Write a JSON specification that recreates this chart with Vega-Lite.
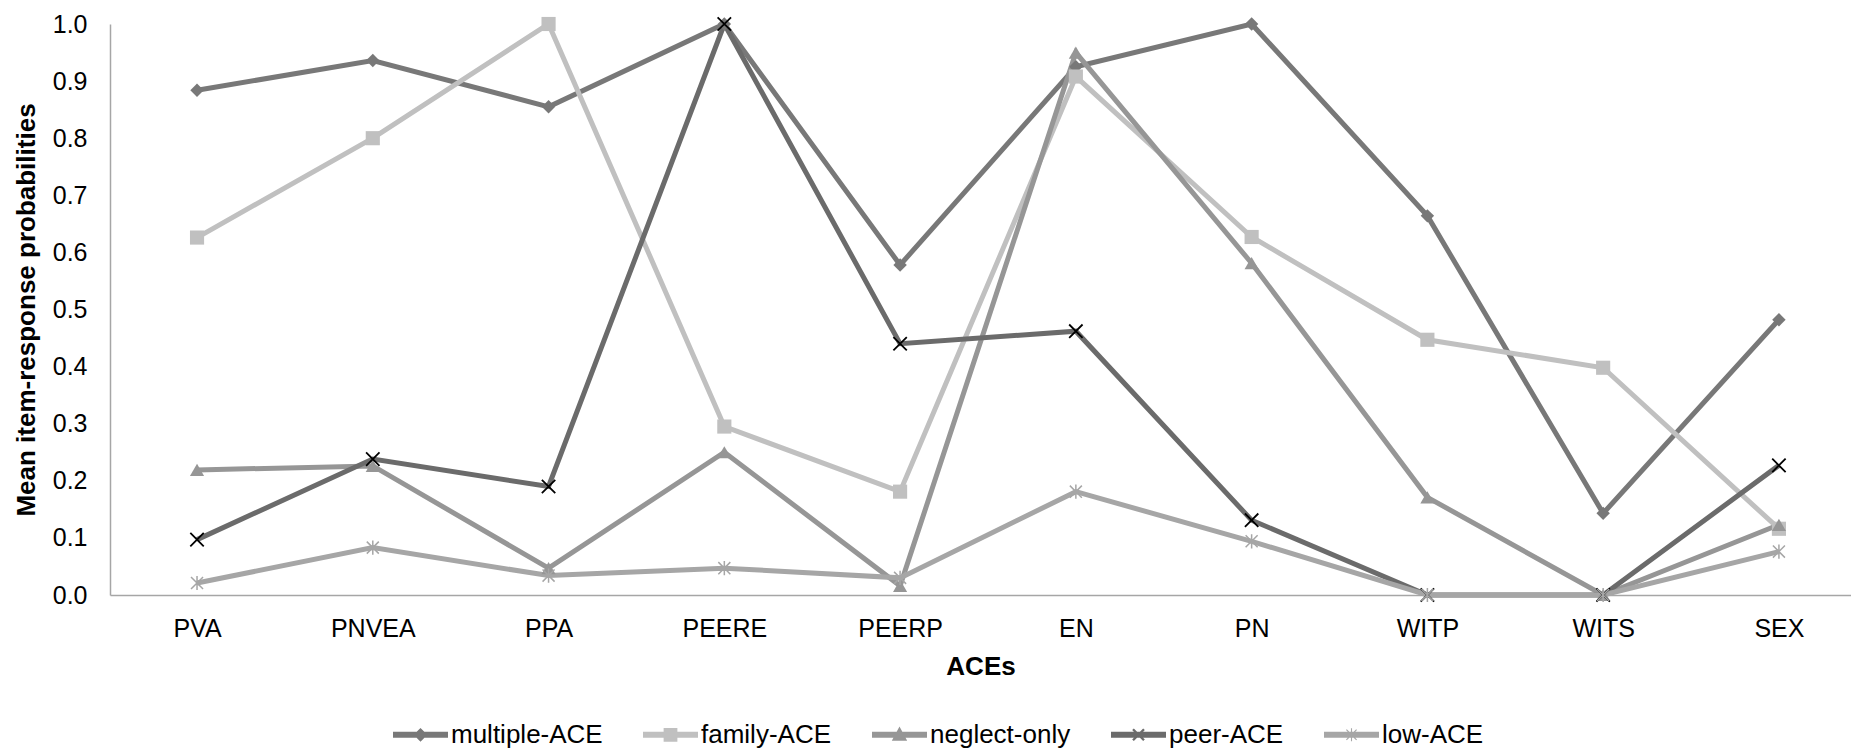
{
  "$schema": "https://vega.github.io/schema/vega-lite/v6.json",
  "width": 1741,
  "height": 571,
  "autosize": {"type": "none"},
  "padding": {"left": 110, "top": 24, "right": 0, "bottom": 155},
  "background": "white",
  "config": {"view": {"stroke": null}, "font": "Liberation Sans"},
  "data": {"values": [
    {"ace": "PVA", "series": "multiple-ACE", "p": 0.884},
    {"ace": "PNVEA", "series": "multiple-ACE", "p": 0.936},
    {"ace": "PPA", "series": "multiple-ACE", "p": 0.855},
    {"ace": "PEERE", "series": "multiple-ACE", "p": 1.0},
    {"ace": "PEERP", "series": "multiple-ACE", "p": 0.578},
    {"ace": "EN", "series": "multiple-ACE", "p": 0.925},
    {"ace": "PN", "series": "multiple-ACE", "p": 1.0},
    {"ace": "WITP", "series": "multiple-ACE", "p": 0.664},
    {"ace": "WITS", "series": "multiple-ACE", "p": 0.143},
    {"ace": "SEX", "series": "multiple-ACE", "p": 0.482},
    {"ace": "PVA", "series": "family-ACE", "p": 0.626},
    {"ace": "PNVEA", "series": "family-ACE", "p": 0.8},
    {"ace": "PPA", "series": "family-ACE", "p": 1.0},
    {"ace": "PEERE", "series": "family-ACE", "p": 0.295},
    {"ace": "PEERP", "series": "family-ACE", "p": 0.181},
    {"ace": "EN", "series": "family-ACE", "p": 0.908},
    {"ace": "PN", "series": "family-ACE", "p": 0.627},
    {"ace": "WITP", "series": "family-ACE", "p": 0.447},
    {"ace": "WITS", "series": "family-ACE", "p": 0.398},
    {"ace": "SEX", "series": "family-ACE", "p": 0.116},
    {"ace": "PVA", "series": "neglect-only", "p": 0.219},
    {"ace": "PNVEA", "series": "neglect-only", "p": 0.226},
    {"ace": "PPA", "series": "neglect-only", "p": 0.047},
    {"ace": "PEERE", "series": "neglect-only", "p": 0.25},
    {"ace": "PEERP", "series": "neglect-only", "p": 0.016},
    {"ace": "EN", "series": "neglect-only", "p": 0.95},
    {"ace": "PN", "series": "neglect-only", "p": 0.581},
    {"ace": "WITP", "series": "neglect-only", "p": 0.171},
    {"ace": "WITS", "series": "neglect-only", "p": 0.0},
    {"ace": "SEX", "series": "neglect-only", "p": 0.123},
    {"ace": "PVA", "series": "peer-ACE", "p": 0.097},
    {"ace": "PNVEA", "series": "peer-ACE", "p": 0.238},
    {"ace": "PPA", "series": "peer-ACE", "p": 0.19},
    {"ace": "PEERE", "series": "peer-ACE", "p": 1.0},
    {"ace": "PEERP", "series": "peer-ACE", "p": 0.44},
    {"ace": "EN", "series": "peer-ACE", "p": 0.462},
    {"ace": "PN", "series": "peer-ACE", "p": 0.131},
    {"ace": "WITP", "series": "peer-ACE", "p": 0.0},
    {"ace": "WITS", "series": "peer-ACE", "p": 0.0},
    {"ace": "SEX", "series": "peer-ACE", "p": 0.227},
    {"ace": "PVA", "series": "low-ACE", "p": 0.021},
    {"ace": "PNVEA", "series": "low-ACE", "p": 0.083},
    {"ace": "PPA", "series": "low-ACE", "p": 0.034},
    {"ace": "PEERE", "series": "low-ACE", "p": 0.047},
    {"ace": "PEERP", "series": "low-ACE", "p": 0.03},
    {"ace": "EN", "series": "low-ACE", "p": 0.181},
    {"ace": "PN", "series": "low-ACE", "p": 0.094},
    {"ace": "WITP", "series": "low-ACE", "p": 0.0},
    {"ace": "WITS", "series": "low-ACE", "p": 0.0},
    {"ace": "SEX", "series": "low-ACE", "p": 0.076}
  ]},
  "encoding": {
    "x": {
      "field": "ace", "type": "nominal", "sort": null,
      "scale": {"type": "point", "padding": 0.4526, "align": 0.547},
      "axis": {
        "title": "ACEs", "labelAngle": 0, "ticks": false, "tickSize": 0,
        "grid": false, "domainColor": "#a6a6a6", "domainWidth": 1.5,
        "labelFont": "Liberation Sans", "labelFontSize": 25, "labelColor": "#000000",
        "labelPadding": 21, "titleFont": "Liberation Sans", "titleFontSize": 26,
        "titleFontWeight": "bold", "titleColor": "#000000", "titlePadding": 12
      }
    },
    "y": {
      "field": "p", "type": "quantitative",
      "scale": {"domain": [0, 1], "nice": false, "zero": true},
      "axis": {
        "title": "Mean item-response probabilities",
        "values": [0, 0.1, 0.2, 0.3, 0.4, 0.5, 0.6, 0.7, 0.8, 0.9, 1.0],
        "format": ".1f", "ticks": false, "tickSize": 0, "grid": false,
        "domainColor": "#a6a6a6", "domainWidth": 1.5,
        "labelFont": "Liberation Sans", "labelFontSize": 25, "labelColor": "#000000",
        "labelPadding": 23, "titleFont": "Liberation Sans", "titleFontSize": 26,
        "titleFontWeight": "bold", "titleColor": "#000000", "titlePadding": 13
      }
    }
  },
  "layer": [
    {
      "mark": {"type": "line", "strokeWidth": 5},
      "encoding": {
        "color": {
          "field": "series", "type": "nominal",
          "scale": {
            "domain": ["multiple-ACE", "family-ACE", "neglect-only", "peer-ACE", "low-ACE"],
            "range": ["#787878", "#c0c0c0", "#969696", "#6b6b6b", "#a6a6a6"]
          },
          "legend": {
            "title": null, "orient": "none", "direction": "horizontal",
            "legendX": 283, "legendY": 683,
            "symbolSize": 3025, "symbolStrokeWidth": 0,
            "labelFont": "Liberation Sans", "labelFontSize": 26, "labelColor": "#000000",
            "labelOffset": 3, "columnPadding": 40, "labelLimit": 400,
            "encode": {
              "symbols": {
                "update": {
                  "shape": {"signal": "datum.value == 'multiple-ACE' ? 'M-1,-0.11H1V0.11H-1Z M0,-0.25L0.25,0L0,0.25L-0.25,0Z' : datum.value == 'family-ACE' ? 'M-1,-0.11H1V0.11H-1Z M-0.25,-0.25H0.25V0.25H-0.25Z' : datum.value == 'neglect-only' ? 'M-1,-0.11H1V0.11H-1Z M0,-0.3L0.28,0.22H-0.28Z' : datum.value == 'peer-ACE' ? 'M-1,-0.11H1V0.11H-1Z M-0.17,-0.23L0.23,0.17L0.17,0.23L-0.23,-0.17Z M-0.23,0.17L0.17,-0.23L0.23,-0.17L-0.17,0.23Z' : 'M-1,-0.11H1V0.11H-1Z M-0.02,-0.24H0.02V0.24H-0.02Z M-0.17,-0.2L0.2,0.17L0.17,0.2L-0.2,-0.17Z M-0.2,0.17L0.17,-0.2L0.2,-0.17L-0.17,0.2Z'"},
                  "fill": {"scale": "color", "field": "value"},
                  "stroke": {"value": "transparent"},
                  "strokeWidth": {"value": 0},
                  "opacity": {"value": 1}
                }
              }
            }
          }
        }
      }
    },
    {
      "transform": [{"filter": "datum.series == 'multiple-ACE'"}],
      "mark": {"type": "point", "shape": "diamond", "filled": true, "size": 180, "color": "#787878", "opacity": 1}
    },
    {
      "transform": [{"filter": "datum.series == 'family-ACE'"}],
      "mark": {"type": "point", "shape": "square", "filled": true, "size": 200, "color": "#c0c0c0", "opacity": 1}
    },
    {
      "transform": [{"filter": "datum.series == 'neglect-only'"}],
      "mark": {"type": "point", "shape": "triangle-up", "filled": true, "size": 200, "color": "#969696", "opacity": 1}
    },
    {
      "transform": [{"filter": "datum.series == 'peer-ACE'"}],
      "mark": {"type": "point", "shape": "M-1,-1L1,1M-1,1L1,-1", "filled": false, "size": 180, "stroke": "#000000", "strokeWidth": 1.8, "opacity": 1}
    },
    {
      "transform": [{"filter": "datum.series == 'low-ACE'"}],
      "mark": {"type": "point", "shape": "M0,-1L0,1M-0.85,-0.85L0.85,0.85M-0.85,0.85L0.85,-0.85", "filled": false, "size": 200, "stroke": "#a6a6a6", "strokeWidth": 1.5, "opacity": 1}
    }
  ]
}
